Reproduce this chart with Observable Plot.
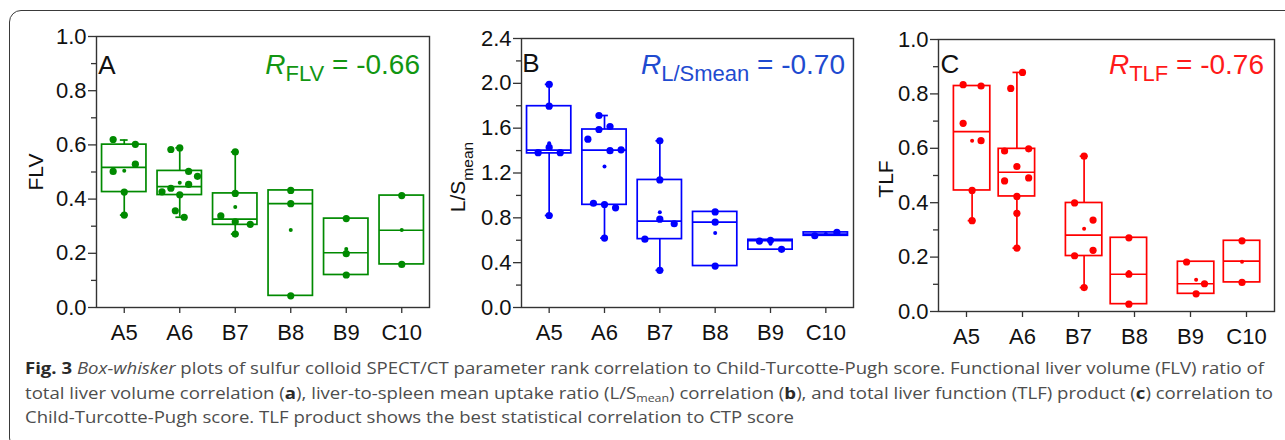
<!DOCTYPE html>
<html><head><meta charset="utf-8">
<script src="https://cdn.jsdelivr.net/npm/d3@7"></script>
<script src="https://cdn.jsdelivr.net/npm/@observablehq/plot@0.6"></script>
<style>
html,body{margin:0;padding:0;background:#fff;width:1285px;height:440px;overflow:hidden;}
#fig{position:relative;width:1285px;height:440px;overflow:hidden;}
.panel{position:absolute;top:0;}
.panel svg{max-width:none !important;}
#border{position:absolute;left:9px;top:10px;width:1300px;height:440px;border:1.5px solid #3a3a3a;border-radius:12px;box-sizing:border-box;}
.cap{position:absolute;left:25px;white-space:nowrap;font-family:"Open Sans",sans-serif;font-size:16.5px;color:#4d4d4d;transform-origin:0 0;line-height:1;}
.cap b{color:#2a2a2a;}
</style></head>
<body>
<div id="fig">
  <div id="border"></div>
  <div class="panel" id="pA" style="left:0px;width:440px;"></div>
  <div class="panel" id="pB" style="left:430px;width:430px;"></div>
  <div class="panel" id="pC" style="left:860px;width:425px;"></div>
  <div class="cap" id="cap1" style="top:360px;"><b>Fig. 3</b> <i>Box-whisker</i> plots of sulfur colloid SPECT/CT parameter rank correlation to Child-Turcotte-Pugh score. Functional liver volume (FLV) ratio of</div>
  <div class="cap" id="cap2" style="top:385px;">total liver volume correlation (<b>a</b>), liver-to-spleen mean uptake ratio (L/S<sub style="font-size:11px;vertical-align:-3px;line-height:0">mean</sub>) correlation (<b>b</b>), and total liver function (TLF) product (<b>c</b>) correlation to</div>
  <div class="cap" id="cap3" style="top:409px;">Child-Turcotte-Pugh score. TLF product shows the best statistical correlation to CTP score</div>
</div>
<script>
// ---------- data ----------
const categories = ["A5", "A6", "B7", "B8", "B9", "C10"];

// Panel A: FLV
const flvPoints = [
  [0.620, 0.602, 0.529, 0.502, 0.426, 0.341],
  [0.583, 0.589, 0.502, 0.484, 0.427, 0.440, 0.454, 0.416, 0.357, 0.333],
  [0.574, 0.421, 0.338, 0.316, 0.307, 0.271],
  [0.432, 0.383, 0.043],
  [0.328, 0.199, 0.120],
  [0.413, 0.159]
];
const flvQ1     = [0.426, 0.415, 0.305, 0.043, 0.120, 0.159];
const flvMedian = [0.517, 0.446, 0.326, 0.383, 0.202, 0.285];
const flvQ3     = [0.601, 0.504, 0.421, 0.432, 0.328, 0.413];
const flvLow    = [0.341, 0.333, 0.271, 0.043, 0.120, 0.159];
const flvHigh   = [0.618, 0.589, 0.574, 0.432, 0.328, 0.413];
const flvMean   = [0.505, 0.460, 0.371, 0.286, 0.216, 0.286];

// Panel B: L/S mean
const lsPoints = [
  [1.990, 1.796, 1.428, 1.381, 1.381, 0.821],
  [1.713, 1.615, 1.588, 1.502, 1.399, 1.407, 0.930, 0.919, 0.889, 0.619],
  [1.487, 1.138, 0.788, 0.747, 0.610, 0.332],
  [0.853, 0.761, 0.370],
  [0.593, 0.599, 0.519],
  [0.640, 0.670]
];
const lsQ1     = [1.375, 0.916, 0.610, 0.370, 0.516, 0.640];
const lsMedian = [1.404, 1.404, 0.770, 0.761, 0.596, 0.655];
const lsQ3     = [1.796, 1.588, 1.138, 0.853, 0.604, 0.670];
const lsLow    = [0.821, 0.619, 0.332, 0.370, 0.516, 0.640];
const lsHigh   = [1.991, 1.713, 1.487, 0.853, 0.604, 0.670];
const lsMean   = [1.466, 1.259, 0.850, 0.664, 0.569, 0.655];

// Panel C: TLF
const tlfPoints = [
  [0.834, 0.829, 0.692, 0.628, 0.445, 0.334],
  [0.879, 0.820, 0.590, 0.598, 0.533, 0.480, 0.491, 0.423, 0.361, 0.233],
  [0.571, 0.399, 0.336, 0.225, 0.205, 0.088],
  [0.271, 0.137, 0.027],
  [0.182, 0.102, 0.065],
  [0.260, 0.107]
];
const tlfQ1     = [0.445, 0.423, 0.204, 0.027, 0.065, 0.107];
const tlfMedian = [0.661, 0.512, 0.281, 0.137, 0.102, 0.185];
const tlfQ3     = [0.829, 0.598, 0.399, 0.271, 0.183, 0.260];
const tlfLow    = [0.334, 0.233, 0.088, 0.027, 0.065, 0.107];
const tlfHigh   = [0.829, 0.879, 0.571, 0.271, 0.183, 0.260];
const tlfMean   = [0.628, 0.533, 0.304, 0.145, 0.117, 0.183];

const yTicks01 = [0, 0.2, 0.4, 0.6, 0.8, 1.0];
const yMinor01 = [0.1, 0.3, 0.5, 0.7, 0.9];
const yTicksLS = [0, 0.4, 0.8, 1.2, 1.6, 2.0, 2.4];
const yMinorLS = [0.2, 0.6, 1.0, 1.4, 1.8, 2.2];

// ---------- layout (horizontal spread of the scatter points, in band units) ----------
const jitterA = [
  [-0.2, 0.2, 0.2, -0.2, 0, 0],
  [-0.16, 0, 0.16, 0.32, -0.32, -0.16, 0.16, 0, -0.08, 0.08],
  [0, 0, -0.26, 0, 0.27, 0],
  [0, 0, 0], [0, 0, 0], [0, 0]
];
const jitterB = [
  [0, 0, 0, -0.2, 0.2, 0],
  [-0.1, 0.1, -0.1, -0.3, 0.1, 0.3, -0.2, 0, 0.2, 0],
  [0, 0, 0, 0.26, -0.27, 0],
  [0, 0, 0], [-0.2, 0, 0.2], [-0.2, 0.2]
];
const jitterC = [
  [-0.16, 0.16, -0.16, 0.16, 0, 0],
  [0.1, -0.11, -0.22, 0.21, 0, -0.22, 0.21, 0, 0, 0],
  [0, -0.17, 0.16, 0.16, -0.17, 0],
  [0, 0, 0], [-0.17, 0.15, 0], [0, 0]
];
const shiftC = [0.1, -0.1, 0.1, -0.1, 0.1, -0.08];
const noShift = [0, 0, 0, 0, 0, 0];

const FONT = "'Liberation Sans', Arial, sans-serif";

function panel(cfg) {
  const n = categories.length;
  const rows = categories.map((c, i) => ({
    c, q1: cfg.q1[i], med: cfg.med[i], q3: cfg.q3[i], lo: cfg.lo[i], hi: cfg.hi[i],
    mean: cfg.mean[i], cx: i + 0.5 + cfg.shift[i]
  }));
  const pts = [];
  cfg.points.forEach((arr, i) => arr.forEach((v, k) =>
    pts.push({x: i + 0.5 + cfg.shift[i] + cfg.jitter[i][k], y: v})));
  const hw = cfg.halfWidth, capW = 0.07, col = cfg.color;
  const svg = Plot.plot({
    width: cfg.width, height: cfg.height,
    marginLeft: cfg.m[0], marginRight: cfg.m[1], marginTop: cfg.m[2], marginBottom: cfg.m[3],
    x: {domain: [0, n], axis: null},
    y: {domain: cfg.yDomain, axis: null},
    style: {fontFamily: FONT, fontSize: "22px", color: "#111", background: "transparent", overflow: "visible"},
    marks: [
      Plot.axisY({ticks: cfg.minor, tickSize: 5, tickFormat: () => "", stroke: "#333", strokeWidth: 1.3, label: null}),
      Plot.axisY({ticks: cfg.major, tickSize: 8, tickPadding: 2, tickFormat: d3.format(".1f"), stroke: "#333", strokeWidth: 1.3, label: null}),
      Plot.axisX({ticks: d3.range(n).map(i => i + 0.5), tickFormat: d => categories[Math.floor(d)], tickSize: 6, tickPadding: 11, stroke: "#333", strokeWidth: 1.3, label: null}),
      Plot.rect(rows, {x1: d => d.cx - hw, x2: d => d.cx + hw, y1: "q1", y2: "q3", fill: "none", stroke: col, strokeWidth: 1.7}),
      Plot.ruleX(rows, {x: "cx", y1: "lo", y2: "q1", stroke: col, strokeWidth: 1.7}),
      Plot.ruleX(rows, {x: "cx", y1: "q3", y2: "hi", stroke: col, strokeWidth: 1.7}),
      Plot.ruleY(rows.filter(d => d.hi > d.q3), {y: "hi", x1: d => d.cx - capW, x2: d => d.cx + capW, stroke: col, strokeWidth: 1.7}),
      Plot.ruleY(rows.filter(d => d.lo < d.q1), {y: "lo", x1: d => d.cx - capW, x2: d => d.cx + capW, stroke: col, strokeWidth: 1.7}),
      Plot.ruleY(rows, {y: "med", x1: d => d.cx - hw, x2: d => d.cx + hw, stroke: col, strokeWidth: 1.7}),
      Plot.dot(rows, {x: "cx", y: "mean", r: 2, fill: col}),
      Plot.dot(pts, {x: "x", y: "y", r: 3.6, fill: col}),
      Plot.frame({stroke: "#333", strokeWidth: 1.4})
    ]
  });
  const s = d3.select(svg);
  const yt = s.append("text")
    .attr("transform", `translate(${cfg.yTitle.x},${cfg.yTitle.y}) rotate(-90)`)
    .attr("text-anchor", "middle").attr("font-family", FONT).attr("font-size", 21).attr("fill", "#111");
  yt.append("tspan").text(cfg.yTitle.main);
  if (cfg.yTitle.sub) yt.append("tspan").attr("font-size", 15.5).attr("dy", 8).text(cfg.yTitle.sub);
  s.append("text").attr("x", cfg.letter.x).attr("y", cfg.letter.y)
    .attr("font-family", FONT).attr("font-size", 26).attr("fill", "#111").text(cfg.letter.t);
  const rt = s.append("text").attr("x", cfg.r.x).attr("y", cfg.r.y).attr("text-anchor", "end")
    .attr("font-family", FONT).attr("font-size", 28).attr("fill", cfg.textColor);
  rt.append("tspan").attr("font-style", "italic").text("R");
  rt.append("tspan").attr("font-size", 22).attr("dy", 7.4).text(cfg.r.sub);
  rt.append("tspan").attr("dy", -7.4).text(" = " + cfg.r.val);
  return svg;
}

document.getElementById("pA").appendChild(panel({
  points: flvPoints, q1: flvQ1, med: flvMedian, q3: flvQ3, lo: flvLow, hi: flvHigh, mean: flvMean,
  jitter: jitterA, shift: noShift, halfWidth: 0.4, color: "#008a00", textColor: "#129612",
  width: 440, height: 345, m: [96, 11, 36, 38], yDomain: [0, 1], major: yTicks01, minor: yMinor01,
  yTitle: {x: 43, y: 172, main: "FLV"}, letter: {x: 107, y: 74, t: "A"},
  r: {x: 420, y: 74, sub: "FLV", val: "-0.66"}
}));
document.getElementById("pB").appendChild(panel({
  points: lsPoints, q1: lsQ1, med: lsMedian, q3: lsQ3, lo: lsLow, hi: lsHigh, mean: lsMean,
  jitter: jitterB, shift: noShift, halfWidth: 0.4, color: "#0000ff", textColor: "#1f4bd0",
  width: 430, height: 345, m: [91, 7, 38, 38], yDomain: [0, 2.4], major: yTicksLS, minor: yMinorLS,
  yTitle: {x: 35, y: 177, main: "L/S", sub: "mean"}, letter: {x: 101, y: 72, t: "B"},
  r: {x: 415, y: 74, sub: "L/Smean", val: "-0.70"}
}));
document.getElementById("pC").appendChild(panel({
  points: tlfPoints, q1: tlfQ1, med: tlfMedian, q3: tlfQ3, lo: tlfLow, hi: tlfHigh, mean: tlfMean,
  jitter: jitterC, shift: shiftC, halfWidth: 0.325, color: "#ff0000", textColor: "#ff1a1a",
  width: 425, height: 345, m: [78, 11, 39, 34], yDomain: [0, 1], major: yTicks01, minor: yMinor01,
  yTitle: {x: 33, y: 179, main: "TLF"}, letter: {x: 90, y: 73, t: "C"},
  r: {x: 404, y: 74, sub: "TLF", val: "-0.76"}
}));

function fitCaption() {
  const c1 = document.getElementById("cap1"), c2 = document.getElementById("cap2"), c3 = document.getElementById("cap3");
  [c1, c2, c3].forEach(el => el.style.transform = "none");
  const k1 = 1239 / c1.getBoundingClientRect().width;
  const k2 = 1248 / c2.getBoundingClientRect().width;
  c1.style.transform = `scaleX(${k1})`;
  c2.style.transform = `scaleX(${k2})`;
  c3.style.transform = `scaleX(${k1})`;
}
fitCaption();
if (document.fonts && document.fonts.ready) document.fonts.ready.then(fitCaption);
</script>
</body></html>
